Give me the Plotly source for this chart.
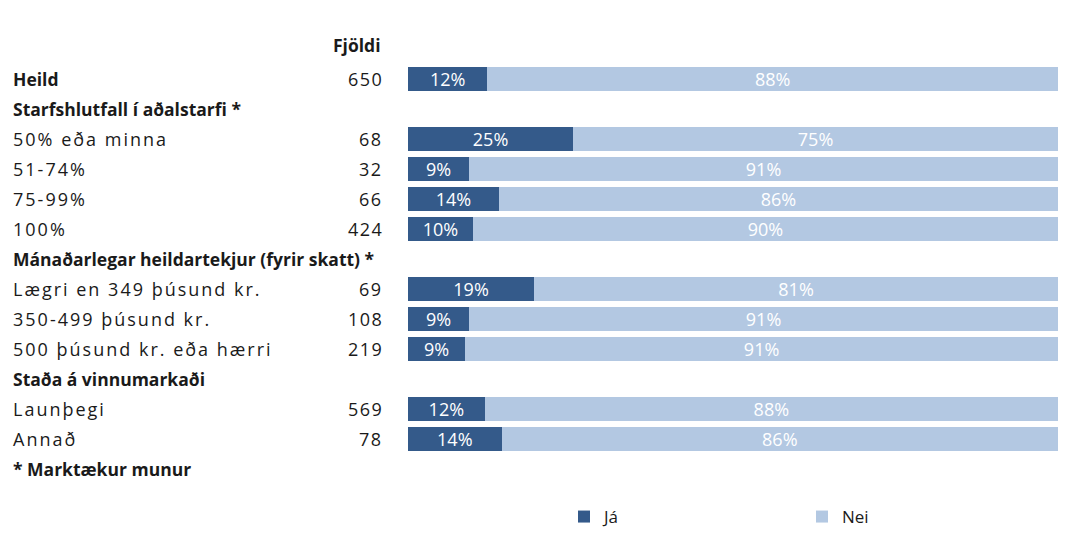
import plotly.graph_objects as go

rows = ["Heild", "Starfshlutfall í aðalstarfi *", "50% eða minna", "51-74%", "75-99%", "100%",
        "Mánaðarlegar heildartekjur (fyrir skatt) *", "Lægri en 349 þúsund kr.",
        "350-499 þúsund kr.", "500 þúsund kr. eða hærri", "Staða á vinnumarkaði",
        "Launþegi", "Annað", "* Marktækur munur"]
bold_rows = ["Heild", "Starfshlutfall í aðalstarfi *", "Mánaðarlegar heildartekjur (fyrir skatt) *",
             "Staða á vinnumarkaði", "* Marktækur munur"]
counts = {"Heild": 650, "50% eða minna": 68, "51-74%": 32, "75-99%": 66, "100%": 424,
          "Lægri en 349 þúsund kr.": 69, "350-499 þúsund kr.": 108,
          "500 þúsund kr. eða hærri": 219, "Launþegi": 569, "Annað": 78}

bar_cats = ["Heild", "50% eða minna", "51-74%", "75-99%", "100%",
            "Lægri en 349 þúsund kr.", "350-499 þúsund kr.", "500 þúsund kr. eða hærri",
            "Launþegi", "Annað"]
ja = [12.2, 25.4, 9.4, 14.0, 10.0, 19.4, 9.4, 8.8, 11.8, 14.4]
nei = [100 - v for v in ja]

C_JA = "#345A8A"
C_NEI = "#B3C8E2"
FONT = "Open Sans"
TXT = "#1a1a1a"
W, H = 1067, 546  # page body has an 8px margin


def spaced(s, px):
    return f'<span style="letter-spacing:{px}px">{s}</span>'


fig = go.Figure()
for name, vals, col in [("Já", ja, C_JA), ("Nei", nei, C_NEI)]:
    fig.add_trace(go.Bar(y=bar_cats, x=vals, name=name, orientation="h", marker_color=col,
                         marker_line_width=0, width=0.8,
                         text=[f"{round(v)}%" for v in vals], textposition="inside",
                         insidetextanchor="middle", textangle=0, constraintext="none",
                         textfont=dict(color="white", size=18, family=FONT)))

annotations = []
for r in rows:
    if r in bold_rows:
        label, size = f"<b>{r}</b>", 17.5
    else:
        label, size = spaced(r, 2.0), 18
    annotations.append(dict(x=3 / W, xref="paper", y=r, yref="y", text=label,
                            showarrow=False, xanchor="left", yanchor="middle",
                            font=dict(size=size, family=FONT, color=TXT)))
    if r in counts:
        annotations.append(dict(x=377 / W, xref="paper", y=r, yref="y",
                                text=spaced(str(counts[r]), 1.5),
                                showarrow=False, xanchor="right", yanchor="middle",
                                font=dict(size=18, family=FONT, color=TXT)))
annotations.append(dict(x=375 / W, xref="paper", y=-1.15, yref="y", text="<b>Fjöldi</b>",
                        showarrow=False, xanchor="right", yanchor="middle",
                        font=dict(size=17.5, family=FONT, color=TXT)))

fig.update_layout(
    barmode="stack",
    width=W, height=H,
    margin=dict(l=0, r=0, t=11, b=55),
    paper_bgcolor="white", plot_bgcolor="white",
    xaxis=dict(domain=[400 / W, 1050 / W], range=[0, 100], visible=False, fixedrange=True),
    yaxis=dict(type="category", categoryorder="array", categoryarray=rows,
               range=[14, -2], visible=False),
    annotations=annotations,
    showlegend=True,
    legend=dict(orientation="h", x=556 / W, xanchor="left", y=-0.0375, yanchor="middle",
                entrywidth=193, entrywidthmode="pixels", traceorder="normal",
                font=dict(size=17, family=FONT, color=TXT), itemclick=False),
    font=dict(family=FONT),
)
fig.write_html("out.html")
